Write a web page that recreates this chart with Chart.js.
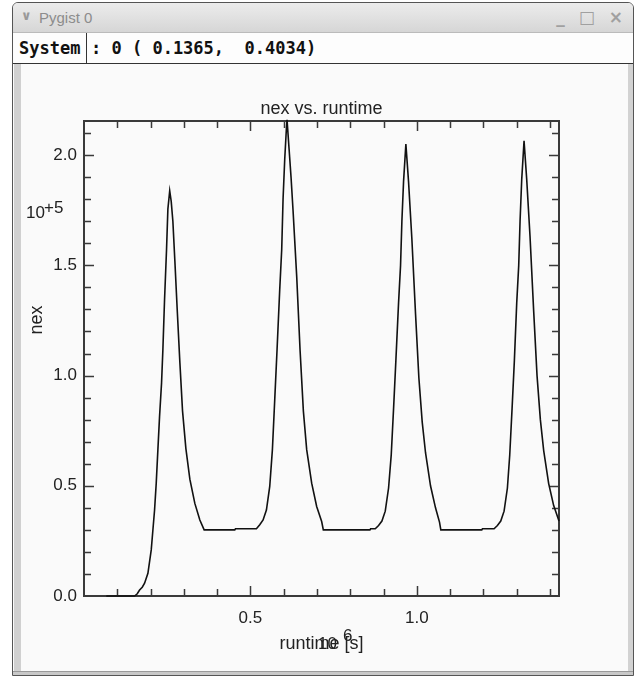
<!DOCTYPE html>
<html>
<head>
<meta charset="utf-8">
<script src="https://cdn.jsdelivr.net/npm/chart.js@4.4.1/dist/chart.umd.min.js"></script>
<style>
body { margin: 0; background: #fff; width: 636px; height: 677px; overflow: hidden; position: relative; }
#win { position: absolute; left: 12px; top: 2px; width: 620px; height: 672px; border: 1px solid #555; border-radius: 6px 6px 0 0; background: #fafafa; overflow: hidden; }
#titlebar { position: absolute; left: 0; top: 0; right: 0; height: 29px; background: linear-gradient(#ececec, #d6d6d6); border-bottom: 1px solid #bbb; }
#titlebar .name { position: absolute; left: 26px; top: 6px; font: 15px "Liberation Sans", sans-serif; color: #8c8c8c; }
#titlebar .chev { position: absolute; left: 8px; top: 5px; font: bold 13px "DejaVu Sans", sans-serif; color: #999; }
#titlebar .btns { position: absolute; right: 6px; top: 4px; font: bold 17px "DejaVu Sans", sans-serif; color: #a0a0a0; letter-spacing: 4px; }
#status { position: absolute; left: 0; top: 30px; right: 0; height: 30px; background: #fdfdfd; border-bottom: 1px solid #333; font: bold 17px "DejaVu Sans Mono", monospace; color: #111; }
#status .sys { position: absolute; left: 0; top: 0; width: 74px; height: 30px; border-right: 1px solid #333; line-height: 30px; padding-left: 6px; box-sizing: border-box; }
#status .pos { position: absolute; left: 78px; top: 0; line-height: 30px; white-space: pre; }
#lband { position: absolute; left: 1px; top: 61px; width: 7px; bottom: 0; background: #d0d0d0; }
#rband { position: absolute; right: 0; top: 61px; width: 5px; bottom: 0; background: #d2d2d2; }
#bband { position: absolute; left: 0; right: 0; bottom: 0; height: 3px; background: #c8c8c8; border-top: 1px solid #999; }
#c { position: absolute; left: 0; top: 0; }
</style>
</head>
<body>
<div id="win">
  <div id="titlebar"><span class="chev">&#8744;</span><span class="name">Pygist 0</span><span class="btns">_ &#9633; &#215;</span></div>
  <div id="status"><span class="sys">System</span><span class="pos">: 0 ( 0.1365,  0.4034)</span></div>
  <div id="lband"></div>
  <div id="rband"></div>
  <div id="bband"></div>
</div>
<canvas id="c" width="636" height="677"></canvas>
<script>
// runtime in units of 1e6 s, nex in units of 1e5
var runtime = [
  0.067, 0.152, 0.160, 0.167, 0.175, 0.182, 0.192, 0.202, 0.212, 0.217, 0.222, 0.227, 0.233, 0.237, 0.242, 0.248, 0.252, 0.2575,
  0.262, 0.267, 0.273, 0.280, 0.288, 0.296, 0.306, 0.318, 0.333, 0.348, 0.361,
  0.453, 0.455,
  0.518, 0.528, 0.538, 0.548, 0.558, 0.566, 0.573, 0.580, 0.588, 0.594, 0.598, 0.603, 0.608, 0.610,
  0.616, 0.622, 0.628, 0.639, 0.649, 0.659, 0.669, 0.684, 0.699, 0.714, 0.719,
  0.859, 0.861,
  0.875, 0.885, 0.895, 0.905, 0.915, 0.923, 0.930, 0.937, 0.945, 0.951, 0.955, 0.960, 0.967,
  0.975, 0.985, 0.996, 1.006, 1.016, 1.026, 1.041, 1.056, 1.068, 1.072,
  1.195, 1.197,
  1.232, 1.242, 1.252, 1.262, 1.272, 1.279, 1.286, 1.293, 1.300, 1.306, 1.310, 1.315, 1.322,
  1.330, 1.340, 1.351, 1.361, 1.371, 1.381, 1.396, 1.411, 1.427
];
var nex = [
  0.0, 0.0, 0.010, 0.027, 0.040, 0.058, 0.103, 0.209, 0.39, 0.512, 0.664, 0.815, 0.967, 1.118, 1.345, 1.573, 1.755, 1.838,
  1.79, 1.70, 1.52, 1.30, 1.06, 0.84, 0.67, 0.53, 0.42, 0.345, 0.30,
  0.30, 0.305,
  0.305, 0.323, 0.345, 0.39, 0.497, 0.664, 0.89, 1.118, 1.39, 1.573, 1.80, 1.98, 2.12, 2.16,
  2.03, 1.90, 1.75, 1.45, 1.118, 0.84, 0.664, 0.512, 0.406, 0.338, 0.30,
  0.30, 0.305,
  0.305, 0.32, 0.34, 0.385, 0.49, 0.64, 0.85, 1.07, 1.33, 1.50, 1.70, 1.88, 2.05,
  1.88, 1.62, 1.28, 0.99, 0.79, 0.65, 0.50, 0.40, 0.335, 0.30,
  0.30, 0.305,
  0.305, 0.32, 0.34, 0.385, 0.49, 0.64, 0.85, 1.07, 1.33, 1.50, 1.70, 1.89, 2.065,
  1.89, 1.63, 1.29, 1.00, 0.80, 0.66, 0.51, 0.41, 0.34
];
var xTicks = [0.5, 1.0];
var yTicks = [0.0, 0.5, 1.0, 1.5, 2.0];
var xRange = [0, 1.427];
var yRange = [0, 2.155];

var points = runtime.map(function (t, i) { return { x: t, y: nex[i] }; });
var labelFont = { family: 'Liberation Sans', size: 17 };

// gist style frame with inward ticks on every side
var frame = {
  id: 'frame',
  beforeDatasetsDraw: function (chart) {
    var ctx = chart.ctx, a = chart.chartArea;
    var xs = chart.scales.x, ys = chart.scales.y;
    ctx.save();
    ctx.strokeStyle = '#3a3a3a';
    ctx.lineWidth = 1.5;
    ctx.beginPath();
    for (var i = 1; i <= 14; i++) {
      var v = i / 10, px = Math.round(xs.getPixelForValue(v)) + 0.5;
      var len = (i % 5 === 0) ? 10 : 7;
      ctx.moveTo(px, a.bottom); ctx.lineTo(px, a.bottom - len);
      ctx.moveTo(px, a.top); ctx.lineTo(px, a.top + len);
    }
    for (var j = 1; j <= 21; j++) {
      var py = Math.round(ys.getPixelForValue(j / 10)) + 0.5;
      var l2 = (j % 5 === 0) ? 10 : 7;
      ctx.moveTo(a.left, py); ctx.lineTo(a.left + l2, py);
      ctx.moveTo(a.right, py); ctx.lineTo(a.right - l2, py);
    }
    ctx.stroke();
    ctx.lineWidth = 2;
    ctx.strokeRect(a.left, a.top, a.right - a.left, a.bottom - a.top);
    ctx.restore();
  },
  afterDraw: function (chart) {
    var ctx = chart.ctx, a = chart.chartArea;
    var cx = (a.left + a.right) / 2;
    ctx.save();
    ctx.fillStyle = '#222';
    ctx.font = '18px "Liberation Sans"';
    ctx.textAlign = 'center';
    ctx.textBaseline = 'alphabetic';
    ctx.fillText('nex vs. runtime', cx, 114);
    ctx.fillText('runtime [s]', cx, 649);
    ctx.textAlign = 'left';
    ctx.font = '17px "Liberation Sans"';
    ctx.fillText('10', 318, 649);
    ctx.fillText('6', 343, 641);
    ctx.fillText('10', 26, 218);
    ctx.fillText('+5', 44, 213);
    ctx.translate(37, 320);
    ctx.rotate(-Math.PI / 2);
    ctx.textAlign = 'center';
    ctx.textBaseline = 'middle';
    ctx.font = '18px "Liberation Sans"';
    ctx.fillText('nex', 0, 0);
    ctx.restore();
  }
};

new Chart(document.getElementById('c'), {
  type: 'line',
  data: {
    datasets: [{
      data: points,
      borderColor: '#111',
      borderWidth: 1.6,
      pointRadius: 0,
      tension: 0,
      fill: false,
      clip: 2
    }]
  },
  options: {
    responsive: false,
    animation: false,
    layout: { padding: { left: 0, right: 77, top: 121, bottom: 0 } },
    plugins: { legend: { display: false }, tooltip: { enabled: false } },
    scales: {
      x: {
        type: 'linear', min: xRange[0], max: xRange[1],
        grid: { display: false, drawTicks: false },
        border: { display: false },
        afterBuildTicks: function (s) { s.ticks = xTicks.map(function (v) { return { value: v }; }); },
        afterFit: function (s) { s.height = 81; },
        ticks: { font: labelFont, color: '#222', padding: 12, maxRotation: 0,
          callback: function (v) { return Number(v).toFixed(1); } }
      },
      y: {
        type: 'linear', min: yRange[0], max: yRange[1],
        grid: { display: false, drawTicks: false },
        border: { display: false },
        afterBuildTicks: function (s) { s.ticks = yTicks.map(function (v) { return { value: v }; }); },
        afterFit: function (s) { s.width = 84; },
        ticks: { font: labelFont, color: '#222', padding: 7,
          callback: function (v) { return Number(v).toFixed(1); } }
      }
    }
  },
  plugins: [frame]
});
</script>
</body>
</html>
